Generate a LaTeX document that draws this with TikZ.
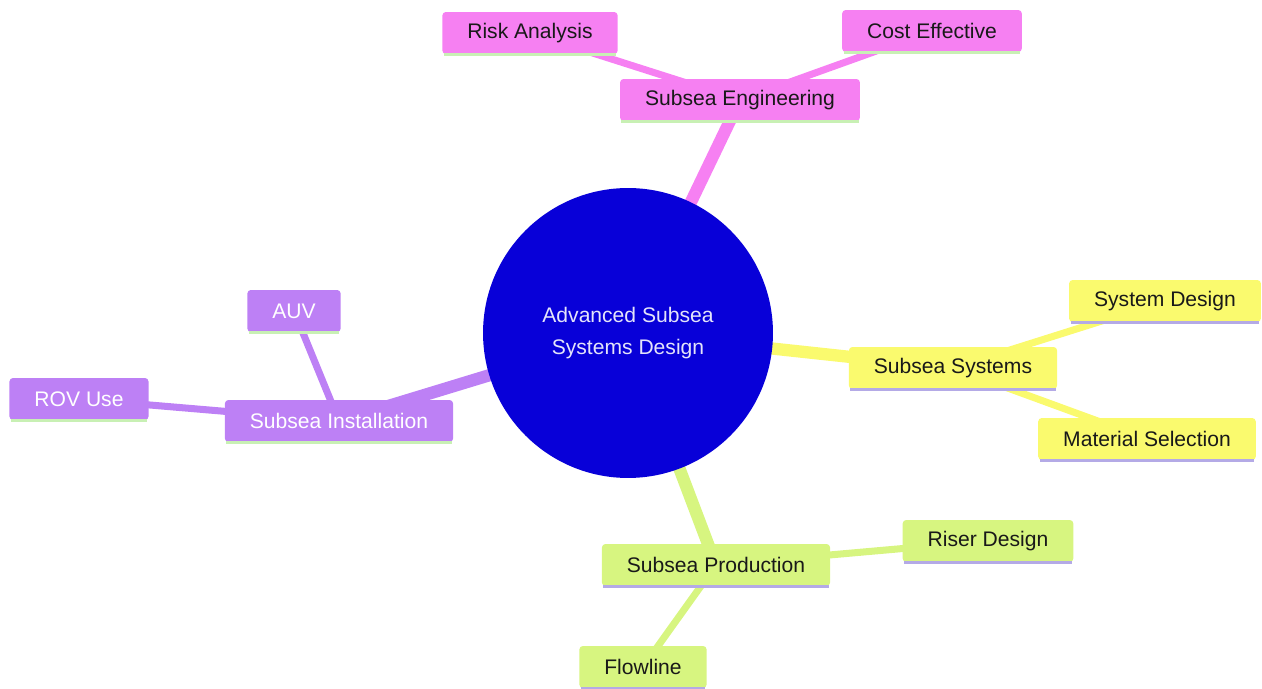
\documentclass[tikz,border=0pt]{standalone}
\usepackage{fontspec}
\setmainfont{Liberation Sans}
\usepackage{tikz}
\usetikzlibrary{backgrounds}

\definecolor{rootblue}{RGB}{8,0,216}
\definecolor{roottext}{RGB}{228,228,250}
\definecolor{engpink}{RGB}{246,128,242}
\definecolor{instpurple}{RGB}{189,128,245}
\definecolor{sysyellow}{RGB}{250,250,110}
\definecolor{prodgreen}{RGB}{215,245,128}
\definecolor{ulgreen}{RGB}{200,240,180}
\definecolor{ullilac}{RGB}{180,170,230}
\definecolor{textdark}{RGB}{25,25,25}

\tikzset{
  box/.style={rounded corners=2pt, minimum height=0.84cm, inner xsep=0.5cm,
    inner ysep=0pt, text=textdark, font=\fontsize{12}{14}\selectfont},
  mainbranch/.style={line width=7pt},
  subbranch/.style={line width=4pt}
}

\begin{document}
\begin{tikzpicture}[x=0.02cm, y=-0.02cm]
        \useasboundingbox (0,0) rectangle (1262,689);
        % Centre
        \node[circle, fill=rootblue, minimum size=5.8cm, text=roottext, align=center,
          font=\fontsize{12}{18}\selectfont] (root) at (628,333) {Advanced Subsea\\Systems Design};
        % Subsea Engineering
        \node[box, fill=engpink] (eng) at (740,100) {Subsea Engineering};
        \node[box, fill=engpink] (risk) at (530,33) {Risk Analysis};
        \node[box, fill=engpink] (cost) at (932,31) {Cost Effective};
        % Subsea Systems
        \node[box, fill=sysyellow] (sys) at (953,368) {Subsea Systems};
        \node[box, fill=sysyellow] (sysdes) at (1165,301) {System Design};
        \node[box, fill=sysyellow] (mat) at (1147,439) {Material Selection};
        % Subsea Production
        \node[box, fill=prodgreen] (prod) at (716,565) {Subsea Production};
        \node[box, fill=prodgreen] (riser) at (988,541) {Riser Design};
        \node[box, fill=prodgreen] (flow) at (643,667) {Flowline};
        % Subsea Installation
        \node[box, fill=instpurple, text=white] (inst) at (339,421) {Subsea Installation};
        \node[box, fill=instpurple, text=white] (auv) at (294,311) {AUV};
        \node[box, fill=instpurple, text=white] (rov) at (79,399) {ROV Use};
        % Underlines
        \foreach \n in {eng,risk,cost,inst,auv,rov}
          \draw[ulgreen, line width=1.7pt] ([xshift=1pt]\n.south west) -- ([xshift=-1pt]\n.south east);
        \foreach \n in {sys,sysdes,mat,prod,riser,flow}
          \draw[ullilac, line width=1.7pt] ([xshift=1pt]\n.south west) -- ([xshift=-1pt]\n.south east);
        % Branches
        \begin{pgfonlayer}{background}
          \draw[mainbranch, engpink] (root.center) -- (eng.center);
          \draw[subbranch, engpink] (eng.center) -- (risk.center);
          \draw[subbranch, engpink] (eng.center) -- (cost.center);
          \draw[mainbranch, sysyellow] (root.center) -- (sys.center);
          \draw[subbranch, sysyellow] (sys.center) -- (sysdes.center);
          \draw[subbranch, sysyellow] (sys.center) -- (mat.center);
          \draw[mainbranch, prodgreen] (root.center) -- (prod.center);
          \draw[subbranch, prodgreen] (prod.center) -- (riser.center);
          \draw[subbranch, prodgreen] (prod.center) -- (flow.center);
          \draw[mainbranch, instpurple] (root.center) -- (inst.center);
          \draw[subbranch, instpurple] (inst.center) -- (auv.center);
          \draw[subbranch, instpurple] (inst.center) -- (rov.center);
        \end{pgfonlayer}
    \end{tikzpicture}
\end{document}
